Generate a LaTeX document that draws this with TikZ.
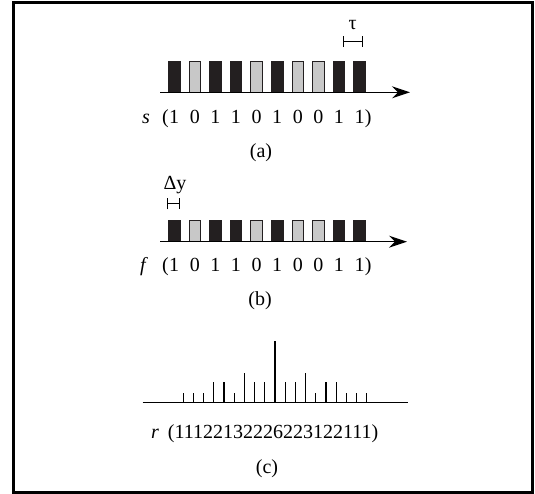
\documentclass[tikz,border=0pt]{standalone}
\usepackage{fontspec}
\setmainfont{Liberation Serif}
\usetikzlibrary{arrows.meta}
\definecolor{barblack}{HTML}{231F20}
\definecolor{bargrey}{HTML}{C8C8C8}
\begin{document}
\begin{tikzpicture}[x=1pt,y=-1pt,
  txt/.style={font=\fontsize{20}{24}\selectfont, inner sep=0pt, anchor=base},
  bar1/.style={fill=barblack, draw=barblack, line width=0.8pt},
  bar0/.style={fill=bargrey, draw=barblack, line width=0.8pt},
  axisline/.style={line width=1.3pt, -{Stealth[length=18pt,width=12pt,inset=6pt]}},
  baseline/.style={line width=1.3pt},
  stem/.style={line width=1.2pt},
  span/.style={line width=1pt, {Bar[width=11pt]}-{Bar[width=11pt]}},
  frame/.style={line width=3pt}]
\useasboundingbox (0,0) rectangle (535,494);
\draw[frame] (13.3,2.8) rectangle (532,492);

% (a) pulse train s
\coordinate (sa0) at (160,92.3);
\coordinate (sa1) at (410,92.3);
\foreach \b [count=\i from 0] in {1,0,1,1,0,1,0,0,1,1} {
  \pgfmathsetmacro\xl{168.3+20.6*\i}
  \draw[bar\b] (\xl,61) rectangle ++(11.7,31.3);
  \node[txt] (sd\i) at (\xl+5.85,124) {\b};
}
\draw[axisline] (sa0) -- (sa1);
\node[txt] (sname) at (146,124) {\textit{s}};
\node[txt, anchor=base east] (sopen) at (sd0.base west) {(};
\node[txt, anchor=base west] (sclose) at (sd9.base east) {)};
\coordinate (tau0) at (342.7,41.7);
\coordinate (tau1) at (363.3,41.7);
\draw[span] (tau0) -- (tau1);
\node[txt] (tau) at (352.7,30) {τ};
\node[txt] (capa) at (261,158) {(a)};

% (b) pulse train f
\coordinate (fa0) at (160,241.7);
\coordinate (fa1) at (407,241.7);
\foreach \b [count=\i from 0] in {1,0,1,1,0,1,0,0,1,1} {
  \pgfmathsetmacro\xl{168.3+20.6*\i}
  \draw[bar\b] (\xl,220) rectangle ++(11.7,21.7);
  \node[txt] (fd\i) at (\xl+5.85,271) {\b};
}
\draw[axisline] (fa0) -- (fa1);
\node[txt] (fname) at (144,271) {\textit{f}};
\node[txt, anchor=base east] (fopen) at (fd0.base west) {(};
\node[txt, anchor=base west] (fclose) at (fd9.base east) {)};
\coordinate (dy0) at (167.3,204);
\coordinate (dy1) at (180,204);
\draw[span] (dy0) -- (dy1);
\node[txt] (dy) at (175,190) {Δy};
\node[txt] (capb) at (260,305) {(b)};

% (c) correlation r
\coordinate (ra0) at (142.7,402.7);
\coordinate (ra1) at (408,402.7);
\draw[baseline] (ra0) -- (ra1);
\foreach \h [count=\i from 0] in {10,10,10,21,21,10,29.5,21,21,61.7,21,21,29.5,10,21,21,10,10,10} {
  \pgfmathsetmacro\xs{183.3+10.19*\i}
  \coordinate (rb\i) at (\xs,402.7);
  \draw[stem] (rb\i) -- ++(0,-\h);
}
\node[txt] (rname) at (155,438) {\textit{r}};
\node[txt, anchor=base west] (rval) at (167.7,438) {(11122132226223122111)};
\node[txt] (capc) at (267,473) {(c)};
\end{tikzpicture}
\end{document}
